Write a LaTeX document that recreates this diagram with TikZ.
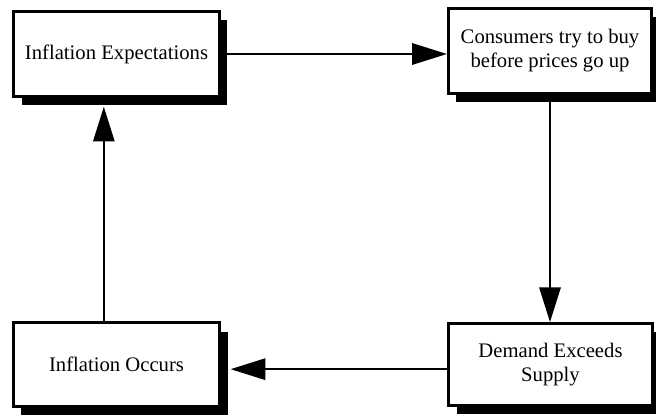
\documentclass[tikz,border=0pt]{standalone}
\usepackage{fontspec}
\setmainfont{Liberation Serif}
\usetikzlibrary{arrows.meta,shadows}
\begin{document}
\begin{tikzpicture}[x=0.75pt,y=-0.75pt,
    box/.style={draw,line width=2.2pt,fill=white,align=center,
      font=\fontsize{15.5}{18}\selectfont,
      drop shadow={shadow xshift=6pt,shadow yshift=-6.5pt,fill=black,opacity=1}},
    flow/.style={line width=1.5pt,->,>={Triangle[length=26pt,width=16pt]}}]
    \useasboundingbox (0,0) rectangle (656,417);
    \node[box,minimum width=154pt,minimum height=64pt] (expect) at (116.5,54) {Inflation Expectations};
    \node[box,minimum width=152.5pt,minimum height=64pt] (consumers) at (550,51) {Consumers try to buy\\before prices go up};
    \node[box,minimum width=155pt,minimum height=62.5pt] (occurs) at (116.5,364.5) {Inflation Occurs};
    \node[box,minimum width=153pt,minimum height=61.5pt] (demand) at (550.5,364.5) {Demand Exceeds\\Supply};
    \draw[flow] (expect.east) -- (expect.east -| consumers.west);
    \draw[flow] (consumers.south) -- (consumers.south |- demand.north);
    \draw[flow] ([yshift=-3.5pt]demand.west) -- ([xshift=7pt,yshift=-3.5pt]occurs.east);
    \draw[flow] ([xshift=-9.5pt]occurs.north) -- ([xshift=-9.5pt,yshift=-6.5pt]expect.south);
\end{tikzpicture}
\end{document}
